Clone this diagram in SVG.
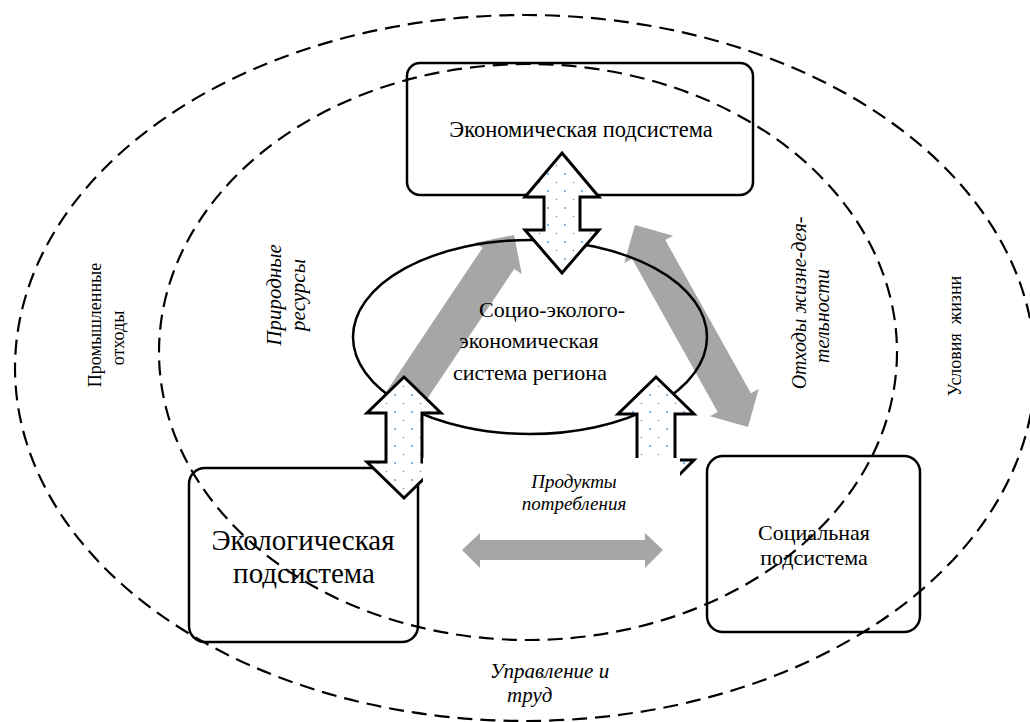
<svg xmlns="http://www.w3.org/2000/svg" width="1030" height="722" viewBox="0 0 1030 722">
<defs>
<pattern id="dots" width="17" height="17" patternUnits="userSpaceOnUse">
<rect width="17" height="17" fill="#ffffff"/>
<circle cx="4" cy="4" r="1" fill="#5b9bd5"/>
<circle cx="12.5" cy="12.5" r="0.8" fill="#5b9bd5"/>
</pattern>
</defs>
<style>
.box{fill:none;stroke:#000;stroke-width:2.5}
.dash{fill:none;stroke:#000;stroke-width:2.2;stroke-dasharray:15 8}
.gray{fill:#a6a6a6;stroke:none}
.block{fill:url(#dots);stroke:#000;stroke-width:3;stroke-linejoin:miter}
.t{font-family:"Liberation Serif","Times New Roman","DejaVu Serif",serif;fill:#000}
.i{font-style:italic}
</style>
<rect width="1030" height="722" fill="#ffffff"/>

<g id="node-econ">
<rect class="box" x="407" y="63" width="346" height="132" rx="13"/>
<text class="t" x="581" y="137" font-size="22.5" text-anchor="middle">Экономическая подсистема</text>
</g>

<g id="node-eco">
<rect class="box" x="189" y="468" width="229" height="174" rx="16"/>
<text class="t" x="303" y="550" font-size="29" text-anchor="middle">Экологическая</text>
<text class="t" x="304" y="583" font-size="29" text-anchor="middle">подсистема</text>
</g>

<g id="node-social">
<rect class="box" x="707" y="456" width="213" height="176" rx="16"/>
<text class="t" x="814" y="540" font-size="22" text-anchor="middle">Социальная</text>
<text class="t" x="814" y="565" font-size="22" text-anchor="middle">подсистема</text>
</g>

<g id="connectors">
<polygon class="gray" points="381.4,398.9 482.6,247.7 475.1,242.7 514,235 521.7,273.9 514.2,268.9 413,420"/>
<polygon class="gray" points="635,225 673.1,235.7 665.3,240.1 750.9,393.3 758.7,388.9 748,427 709.9,416.3 717.7,411.9 632.1,258.7 624.3,263.1"/>
</g>

<g id="node-center">
<ellipse cx="530" cy="337" rx="177" ry="97" fill="none" stroke="#000" stroke-width="2.5"/>
<text class="t" x="552" y="317" font-size="22" text-anchor="middle">Социо-эколого-</text>
<text class="t" x="529" y="348" font-size="22" text-anchor="middle">экономическая</text>
<text class="t" x="530" y="380" font-size="22" text-anchor="middle">система региона</text>
</g>

<g id="block-arrows">
<path class="block" d="M562,153 L599,197 L580,197 L580,230 L599,230 L562,273 L525,230 L544,230 L544,197 L525,197 Z"/>
<path class="block" d="M404,377 L441,413 L422,413 L422,462 L441,462 L404,498 L367,462 L386,462 L386,413 L367,413 Z"/>
<path class="block" d="M656,377 L694,414 L675,414 L675,460 L694,460 L656,498 L618,460 L637,460 L637,414 L618,414 Z"/>
</g>

<g id="label-products">
<rect x="423" y="458" width="257" height="64" fill="#ffffff"/>
<text class="t i" x="574" y="488" font-size="19" text-anchor="middle">Продукты</text>
<text class="t i" x="574" y="510" font-size="19" text-anchor="middle">потребления</text>
</g>

<g id="connector-h">
<polygon class="gray" points="462,550 480,533 480,540 645,540 645,533 663,550 645,568 645,560 480,560 480,568"/>
</g>

<g id="boundaries">
<ellipse class="dash" cx="528" cy="352" rx="369" ry="288"/>
<ellipse class="dash" cx="525" cy="368" rx="510" ry="353"/>
</g>

<g id="labels">
<text class="t" transform="translate(101,325) rotate(-90)" font-size="18" text-anchor="middle">Промышленные</text>
<text class="t" transform="translate(124,338) rotate(-90)" font-size="18" text-anchor="middle">отходы</text>
<text class="t i" transform="translate(281,295) rotate(-90)" font-size="21" text-anchor="middle">Природные</text>
<text class="t i" transform="translate(305,295) rotate(-90)" font-size="21" text-anchor="middle">ресурсы</text>
<text class="t i" transform="translate(806,303) rotate(-90)" font-size="20" text-anchor="middle">Отходы жизне-дея-</text>
<text class="t i" transform="translate(829,316) rotate(-90)" font-size="20" text-anchor="middle">тельности</text>
<text class="t" transform="translate(961,336) rotate(-90)" font-size="18" text-anchor="middle" xml:space="preserve">Условия  жизни</text>
<text class="t i" x="490" y="678" font-size="21">Управление и</text>
<text class="t i" x="507" y="702" font-size="21">труд</text>
</g>
</svg>
